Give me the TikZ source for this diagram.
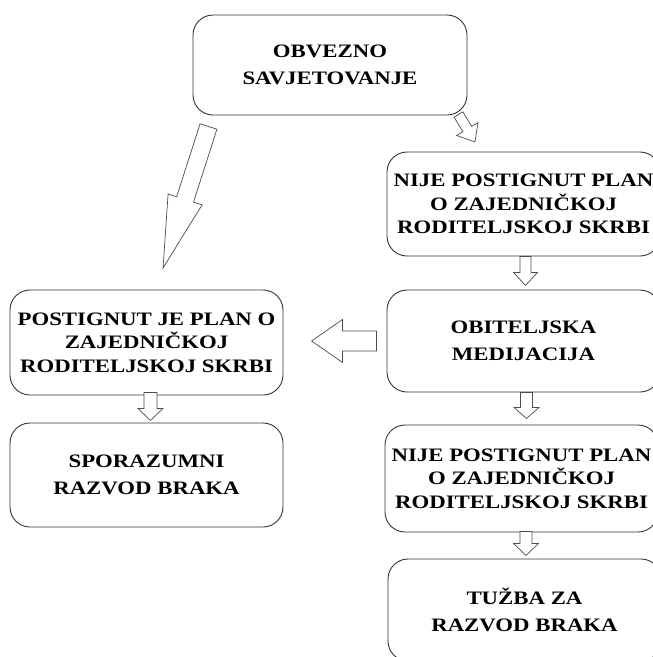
\documentclass[tikz,border=0pt]{standalone}
\usepackage{fontspec}
\setmainfont[FakeStretch=1.2]{Liberation Serif}
\usetikzlibrary{calc}
\tikzset{
  box/.style={draw=black!80, line width=0.9pt, rounded corners=20pt, fill=white,
    minimum width=273pt, align=center, inner sep=0pt,
    font=\fontsize{19}{23.5}\selectfont\bfseries},
  barrow/.style={draw=black!70, fill=white, line width=0.7pt, line join=miter},
}
% #1 start, #2 angle, #3 length, #4 shaft width, #5 head width, #6 head length
\newcommand\blockarr[6]{%
  \begin{scope}[shift={#1},rotate=#2]
    \draw[barrow] (0,-#4/2) -- ({#3-#6},-#4/2) -- ({#3-#6},-#5/2) -- (#3,0)
      -- ({#3-#6},#5/2) -- ({#3-#6},#4/2) -- (0,#4/2) -- cycle;
  \end{scope}}
\begin{document}
\begin{tikzpicture}[x=1pt,y=-1pt]
\clip (0,0) rectangle (653,657);
\fill[white] (0,0) rectangle (653,657);
% boxes
\node[box, minimum width=274pt, minimum height=100pt] (top) at (330,65) {OBVEZNO\\[3pt]SAVJETOVANJE};
\node[box, minimum height=104pt] (r1) at (523.5,204) {NIJE POSTIGNUT PLAN\\O ZAJEDNIČKOJ\\RODITELJSKOJ SKRBI};
\node[box, minimum height=102pt] (r2) at (523.5,341) {OBITELJSKA\\[3pt]MEDIJACIJA};
\node[box, minimum height=105pt] (l1) at (146.5,342.5) {POSTIGNUT JE PLAN O\\ZAJEDNIČKOJ\\RODITELJSKOJ SKRBI};
\node[box, minimum height=104pt] (l2) at (146.5,475) {SPORAZUMNI\\[3pt]RAZVOD BRAKA};
\node[box, minimum height=107pt] (r3) at (521.5,478.5) {NIJE POSTIGNUT PLAN\\O ZAJEDNIČKOJ\\RODITELJSKOJ SKRBI};
\node[box, minimum height=102pt] (r4) at (524.5,610) {TUŽBA ZA\\[3pt]RAZVOD BRAKA};
% block arrows
\coordinate (bigtail) at (208.5,126.5);
\coordinate (smalltail) at (458.5,114.5);
\blockarr{(bigtail)}{-107.8}{148.6}{17.7}{35.7}{72}
\blockarr{(smalltail)}{-59}{32}{10.3}{25}{15}
\blockarr{($(r1.south)+(2,0)$)}{-90}{29}{11}{24}{13}
\blockarr{($(r2.west)+(-10,0)$)}{180}{65}{20}{43}{31}
\blockarr{($(l1.south)+(4,-3)$)}{-90}{28}{13}{25}{12}
\blockarr{($(r2.south)+(3,0)$)}{-90}{26}{12}{25}{11}
\blockarr{($(r3.south)+(4.5,-1)$)}{-90}{24}{12}{25}{12}
\end{tikzpicture}
\end{document}
